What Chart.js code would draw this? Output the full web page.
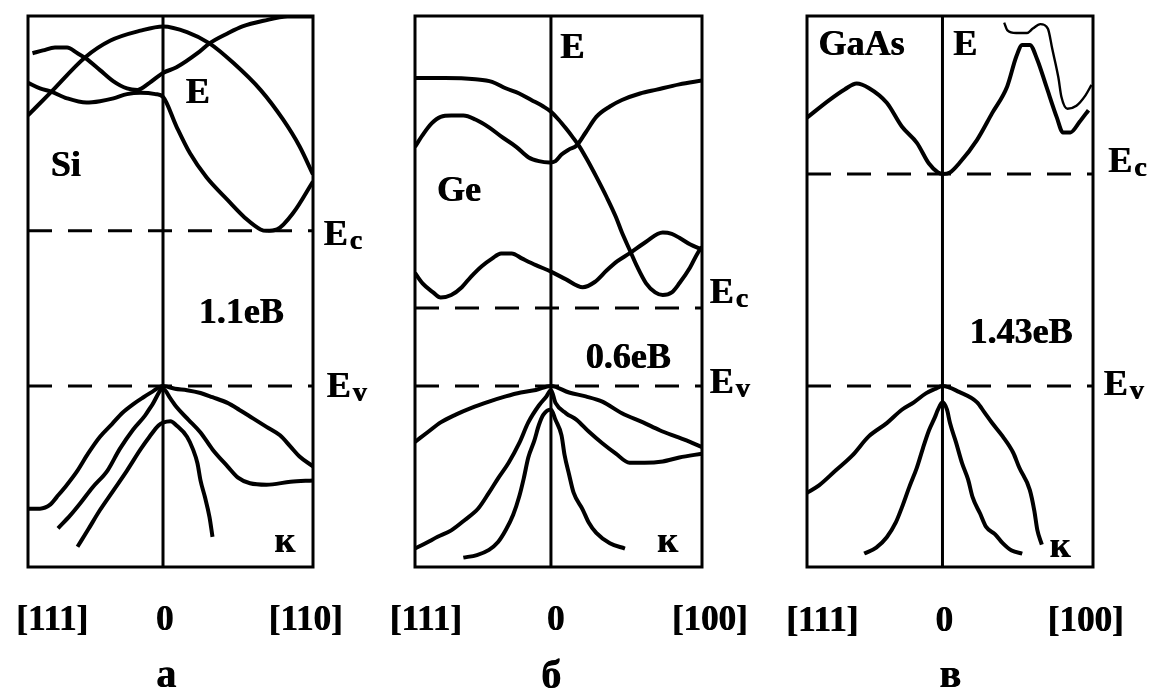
<!DOCTYPE html>
<html>
<head>
<meta charset="utf-8">
<script src="https://cdn.jsdelivr.net/npm/chart.js@4"></script>
<style>
  body { margin: 0; background: #fff; }
  .wrap { position: relative; width: 1153px; height: 695px; }
  canvas { position: absolute; top: 0; }
</style>
</head>
<body>
<div class="wrap">
  <canvas id="si" width="385" height="695" style="left:0"></canvas>
  <canvas id="ge" width="385" height="695" style="left:385px"></canvas>
  <canvas id="gaas" width="383" height="695" style="left:770px"></canvas>
</div>
<script>
// band gaps, eV (Ev = 0)
const siGap = 1.1;
const geGap = 0.6;
const gaasGap = 1.43;

// [k, E] pairs; k: -0.9 .. 0 toward [111], 0 .. 1 toward [110]/[100]
// Si conduction bands
const siBand1 = [[-0.90,1.92],[-0.75,2.08],[-0.52,2.33],[-0.35,2.45],[-0.15,2.52],[0,2.55],[0.16,2.51],[0.31,2.43],[0.47,2.29],[0.65,2.10],[0.80,1.89],[0.91,1.70],[1.0,1.50]];
const siBand2 = [[-0.87,2.36],[-0.80,2.38],[-0.72,2.40],[-0.64,2.40],[-0.57,2.36],[-0.51,2.32],[-0.42,2.24],[-0.33,2.16],[-0.24,2.11],[-0.17,2.10],[-0.09,2.15],[0,2.22],[0.09,2.26],[0.23,2.36],[0.31,2.43],[0.43,2.50],[0.53,2.55],[0.67,2.59],[0.83,2.62],[1.0,2.62]];
const siBand3 = [[-0.90,2.15],[-0.82,2.11],[-0.75,2.09],[-0.64,2.04],[-0.51,2.01],[-0.42,2.02],[-0.33,2.04],[-0.24,2.07],[-0.15,2.08],[-0.05,2.07],[0,2.05],[0.09,1.84],[0.18,1.65],[0.29,1.48],[0.43,1.32],[0.56,1.18],[0.65,1.11],[0.69,1.10],[0.76,1.11],[0.87,1.23],[1.0,1.45]];
// Si valence bands
const siVal1 = [[-0.90,-0.87],[-0.82,-0.87],[-0.75,-0.84],[-0.71,-0.79],[-0.64,-0.70],[-0.57,-0.60],[-0.50,-0.48],[-0.42,-0.36],[-0.34,-0.27],[-0.27,-0.19],[-0.20,-0.13],[-0.13,-0.08],[-0.07,-0.04],[0,0],[0.08,-0.02],[0.16,-0.03],[0.25,-0.05],[0.33,-0.08],[0.43,-0.12],[0.51,-0.17],[0.60,-0.23],[0.69,-0.29],[0.78,-0.35],[0.85,-0.43],[0.91,-0.50],[1.0,-0.57]];
const siVal2 = [[-0.70,-1.01],[-0.62,-0.92],[-0.55,-0.83],[-0.47,-0.72],[-0.37,-0.60],[-0.29,-0.45],[-0.20,-0.31],[-0.12,-0.21],[-0.07,-0.13],[0,-0.02],[0.05,-0.09],[0.09,-0.15],[0.17,-0.24],[0.25,-0.33],[0.33,-0.45],[0.43,-0.57],[0.50,-0.65],[0.58,-0.69],[0.69,-0.70],[0.85,-0.68],[1.0,-0.67]];
const siVal3 = [[-0.57,-1.14],[-0.50,-1.02],[-0.42,-0.88],[-0.33,-0.74],[-0.24,-0.60],[-0.15,-0.45],[-0.09,-0.36],[-0.03,-0.28],[0,-0.26],[0.05,-0.25],[0.09,-0.28],[0.16,-0.36],[0.20,-0.45],[0.23,-0.55],[0.25,-0.67],[0.28,-0.79],[0.31,-0.93],[0.33,-1.07]];

// Ge conduction bands
const geBand1 = [[-0.90,2.37],[-0.70,2.37],[-0.50,2.36],[-0.39,2.34],[-0.30,2.29],[-0.21,2.25],[-0.13,2.20],[-0.05,2.15],[0,2.11],[0.05,2.05],[0.10,1.98],[0.14,1.92],[0.19,1.84],[0.24,1.74],[0.30,1.61],[0.37,1.45],[0.43,1.30],[0.47,1.18],[0.52,1.05],[0.57,0.92],[0.63,0.79],[0.69,0.72],[0.74,0.70],[0.80,0.72],[0.85,0.79],[0.92,0.91],[0.97,1.02],[1.0,1.07]];
const geBand2 = [[-0.90,1.84],[-0.85,1.93],[-0.79,2.02],[-0.73,2.07],[-0.66,2.08],[-0.58,2.08],[-0.50,2.05],[-0.41,1.99],[-0.33,1.92],[-0.23,1.84],[-0.15,1.76],[-0.08,1.73],[-0.01,1.72],[0.03,1.73],[0.07,1.78],[0.12,1.82],[0.17,1.85],[0.23,1.95],[0.30,2.07],[0.39,2.15],[0.47,2.20],[0.59,2.25],[0.70,2.28],[0.85,2.32],[1.0,2.35]];
const geBand3 = [[-0.90,0.87],[-0.85,0.79],[-0.78,0.72],[-0.73,0.68],[-0.66,0.70],[-0.59,0.76],[-0.53,0.84],[-0.46,0.92],[-0.39,0.98],[-0.33,1.02],[-0.26,1.02],[-0.19,0.98],[-0.10,0.93],[0,0.88],[0.10,0.82],[0.21,0.76],[0.29,0.80],[0.37,0.89],[0.44,0.96],[0.52,1.02],[0.63,1.11],[0.74,1.18],[0.80,1.17],[0.85,1.14],[0.92,1.09],[1.0,1.05]];
// Ge valence bands
const geVal1 = [[-0.90,-0.43],[-0.81,-0.35],[-0.73,-0.28],[-0.63,-0.22],[-0.53,-0.17],[-0.41,-0.12],[-0.30,-0.08],[-0.20,-0.05],[-0.10,-0.03],[0,0],[0.12,-0.05],[0.23,-0.08],[0.34,-0.12],[0.47,-0.21],[0.61,-0.28],[0.72,-0.34],[0.83,-0.39],[0.92,-0.43],[1.0,-0.47]];
const geVal2 = [[-0.90,-1.25],[-0.83,-1.21],[-0.75,-1.16],[-0.66,-1.11],[-0.57,-1.03],[-0.48,-0.94],[-0.41,-0.82],[-0.35,-0.71],[-0.28,-0.59],[-0.21,-0.44],[-0.15,-0.28],[-0.08,-0.15],[-0.03,-0.08],[0,-0.03],[0.03,-0.13],[0.10,-0.21],[0.17,-0.26],[0.25,-0.35],[0.34,-0.44],[0.43,-0.52],[0.52,-0.59],[0.62,-0.59],[0.74,-0.58],[0.85,-0.55],[1.0,-0.52]];
const geVal3 = [[-0.58,-1.32],[-0.49,-1.30],[-0.41,-1.26],[-0.35,-1.20],[-0.30,-1.11],[-0.25,-0.99],[-0.21,-0.85],[-0.18,-0.71],[-0.15,-0.55],[-0.11,-0.42],[-0.08,-0.30],[-0.05,-0.22],[0,-0.18],[0.03,-0.26],[0.07,-0.38],[0.09,-0.53],[0.12,-0.68],[0.15,-0.82],[0.21,-0.95],[0.25,-1.05],[0.30,-1.13],[0.39,-1.21],[0.49,-1.25]];

// GaAs conduction bands
const gaasBand1 = [[-0.90,1.81],[-0.75,1.93],[-0.65,2.00],[-0.57,2.04],[-0.49,2.01],[-0.37,1.91],[-0.27,1.75],[-0.17,1.64],[-0.09,1.50],[-0.03,1.44],[0,1.43],[0.05,1.44],[0.11,1.50],[0.23,1.66],[0.33,1.84],[0.43,2.02],[0.49,2.22],[0.53,2.30],[0.58,2.30],[0.63,2.20],[0.69,2.02],[0.76,1.81],[0.80,1.71],[0.85,1.71],[0.91,1.78],[0.97,1.86]];
const gaasBand2 = [[0.41,2.45],[0.43,2.40],[0.49,2.38],[0.56,2.38],[0.60,2.41],[0.65,2.44],[0.70,2.41],[0.73,2.27],[0.77,2.08],[0.79,1.95],[0.83,1.87],[0.89,1.89],[0.95,1.96],[0.99,2.03]];
// GaAs valence bands
const gaasVal1 = [[-0.90,-0.72],[-0.82,-0.67],[-0.71,-0.57],[-0.60,-0.47],[-0.49,-0.34],[-0.37,-0.25],[-0.27,-0.16],[-0.19,-0.11],[-0.11,-0.05],[-0.05,-0.02],[0,0],[0.11,-0.04],[0.23,-0.11],[0.28,-0.18],[0.33,-0.25],[0.40,-0.34],[0.47,-0.45],[0.51,-0.55],[0.58,-0.70],[0.61,-0.84],[0.63,-0.97],[0.66,-1.07]];
const gaasVal2 = [[-0.52,-1.13],[-0.44,-1.09],[-0.37,-1.02],[-0.31,-0.92],[-0.27,-0.82],[-0.22,-0.68],[-0.17,-0.55],[-0.13,-0.42],[-0.09,-0.30],[-0.05,-0.21],[-0.03,-0.16],[0,-0.11],[0.03,-0.16],[0.05,-0.25],[0.09,-0.38],[0.13,-0.52],[0.17,-0.63],[0.20,-0.75],[0.25,-0.86],[0.29,-0.95],[0.35,-1.00],[0.40,-1.06],[0.46,-1.11],[0.53,-1.13]];

// direction labels under each panel
const siDirs = ["[111]", "0", "[110]"];
const geDirs = ["[111]", "0", "[100]"];
const gaasDirs = ["[111]", "0", "[100]"];

const FONT = '"Liberation Serif", "Times New Roman", serif';
const K_MIN = -0.9, K_MAX = 1.0;

// frame, zero-k axis line and all text
const panelText = {
  id: "panelText",
  afterDatasetsDraw(chart, args, opts) {
    const { ctx, chartArea: a, scales: { x, y } } = chart;
    ctx.save();
    ctx.strokeStyle = "#000";
    ctx.lineWidth = 3;
    ctx.strokeRect(a.left, a.top, a.right - a.left, a.bottom - a.top);
    const x0 = x.getPixelForValue(0);
    ctx.beginPath();
    ctx.moveTo(x0, a.top);
    ctx.lineTo(x0, a.bottom);
    ctx.stroke();

    // double fill, offset a little, for a heavier face
    ctx.fillStyle = "#000";
    ctx.textBaseline = "alphabetic";
    const put = (s, px, py) => {
      ctx.fillText(s, px, py);
      ctx.fillText(s, px + 0.8, py);
    };
    opts.labels.forEach((t) => {
      ctx.font = `bold ${t.size || 36}px ${FONT}`;
      ctx.textAlign = t.sub ? "left" : "center";
      const px = x.getPixelForValue(t.k);
      const py = y.getPixelForValue(t.e);
      put(t.text, px, py);
      if (t.sub) {
        const w = ctx.measureText(t.text).width;
        ctx.font = `bold 28px ${FONT}`;
        put(t.sub, px + w + 2, py + 4);
      }
    });
    ctx.restore();
  },
};

const toXY = (arr) => arr.map(([k, e]) => ({ x: k, y: e }));

function band(arr, width) {
  return {
    data: toXY(arr),
    showLine: true,
    borderColor: "#000",
    borderWidth: width || 4,
    pointRadius: 0,
    cubicInterpolationMode: "monotone",
    fill: false,
  };
}

function level(e) {
  return {
    data: [{ x: K_MIN, y: e }, { x: K_MAX, y: e }],
    showLine: true,
    borderColor: "#000",
    borderWidth: 3,
    borderDash: [24, 16],
    pointRadius: 0,
  };
}

function makePanel(id, cfg) {
  new Chart(document.getElementById(id), {
    type: "scatter",
    data: { datasets: cfg.datasets },
    options: {
      responsive: false,
      animation: false,
      devicePixelRatio: 1,
      events: [],
      layout: { padding: cfg.padding },
      scales: {
        x: { type: "linear", min: K_MIN, max: K_MAX, display: false },
        y: { type: "linear", min: cfg.yMin, max: cfg.yMax, display: false },
      },
      plugins: {
        legend: { display: false },
        tooltip: { enabled: false },
        panelText: { labels: cfg.labels },
      },
    },
    plugins: [panelText],
  });
}

// а — Si
makePanel("si", {
  padding: { left: 28, top: 16, right: 72, bottom: 128 },
  yMin: -1.284, yMax: 2.624,
  datasets: [
    level(siGap), level(0),
    band(siBand1), band(siBand2), band(siBand3),
    band(siVal1), band(siVal2), band(siVal3),
  ],
  labels: [
    { text: "Si", k: -0.65, e: 1.49 },
    { text: "E", k: 0.23, e: 2.01 },
    { text: `${siGap}еВ`, k: 0.52, e: 0.45 },
    { text: "к", k: 0.81, e: -1.18 },
    { text: "E", sub: "c", k: 1.07, e: 1.0 },
    { text: "E", sub: "v", k: 1.09, e: -0.08 },
    { text: siDirs[0], k: -0.74, e: -1.73, size: 35 },
    { text: siDirs[1], k: 0.01, e: -1.73, size: 35 },
    { text: siDirs[2], k: 0.95, e: -1.73, size: 35 },
    { text: "а", k: 0.02, e: -2.135, size: 40 },
  ],
});

// б — Ge
makePanel("ge", {
  padding: { left: 30, top: 16, right: 68, bottom: 128 },
  yMin: -1.392, yMax: 2.846,
  datasets: [
    level(geGap), level(0),
    band(geBand1), band(geBand2), band(geBand3),
    band(geVal1), band(geVal2), band(geVal3),
  ],
  labels: [
    { text: "E", k: 0.14, e: 2.52 },
    { text: "Ge", k: -0.61, e: 1.42 },
    { text: `${geGap}еВ`, k: 0.51, e: 0.14 },
    { text: "к", k: 0.77, e: -1.28 },
    { text: "E", sub: "c", k: 1.05, e: 0.64 },
    { text: "E", sub: "v", k: 1.05, e: -0.05 },
    { text: geDirs[0], k: -0.83, e: -1.88, size: 35 },
    { text: geDirs[1], k: 0.03, e: -1.88, size: 35 },
    { text: geDirs[2], k: 1.05, e: -1.88, size: 35 },
    { text: "б", k: 0.0, e: -2.32, size: 40 },
  ],
});

// в — GaAs
makePanel("gaas", {
  padding: { left: 37, top: 16, right: 60, bottom: 128 },
  yMin: -1.2205, yMax: 2.495,
  datasets: [
    level(gaasGap), level(0),
    band(gaasBand1), band(gaasBand2, 2.4),
    band(gaasVal1), band(gaasVal2),
  ],
  labels: [
    { text: "GaAs", k: -0.54, e: 2.23 },
    { text: "E", k: 0.15, e: 2.23 },
    { text: `${gaasGap}еВ`, k: 0.52, e: 0.29 },
    { text: "к", k: 0.78, e: -1.15 },
    { text: "E", sub: "c", k: 1.10, e: 1.44 },
    { text: "E", sub: "v", k: 1.07, e: -0.06 },
    { text: gaasDirs[0], k: -0.80, e: -1.65, size: 35 },
    { text: gaasDirs[1], k: 0.01, e: -1.65, size: 35 },
    { text: gaasDirs[2], k: 0.95, e: -1.65, size: 35 },
    { text: "в", k: 0.05, e: -2.03, size: 40 },
  ],
});
</script>
</body>
</html>
